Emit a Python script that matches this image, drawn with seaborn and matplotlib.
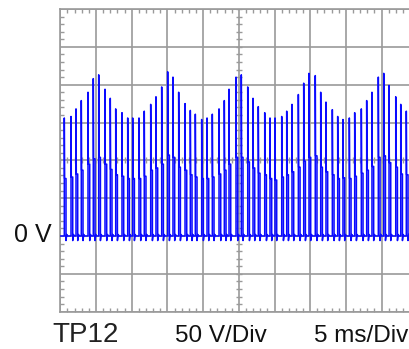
import numpy as np
import pandas as pd
import seaborn as sns
import matplotlib
matplotlib.use("Agg")
import matplotlib.pyplot as plt
from matplotlib.ticker import MultipleLocator

# Scope capture, TP12: 50 V/div, 5 ms/div
# start time of every pulse (ms)
pulse_t = [0.56, 1.50, 2.20, 2.94, 3.88, 4.62, 5.38, 6.26, 7.00, 7.76,
           8.64, 9.44, 10.14, 11.02, 11.76, 12.66, 13.40, 14.20, 15.04, 15.78,
           16.58, 17.47, 18.21, 18.91, 19.80, 20.55, 21.29, 22.23, 22.97, 23.63,
           24.61, 25.35, 26.25, 26.99, 27.73, 28.63, 29.37, 30.07, 31.01, 31.71,
           32.45, 33.34, 34.09, 34.83, 35.71, 36.47, 37.21, 38.10, 38.85, 39.59,
           40.48, 41.23, 42.16, 42.91, 43.65, 44.54, 45.30, 46.04, 46.98, 47.68,
           48.46, 49.24]
# peak of the narrow spike at the start of each pulse (V)
spike_v = [156, 158, 168, 179, 190, 208, 213, 194, 182, 168,
           163, 156, 156, 156, 165, 174, 184, 197, 217, 210,
           190, 175, 166, 161, 154, 156, 161, 168, 179, 194,
           210, 213, 197, 182, 171, 163, 156, 156, 158, 165,
           174, 187, 202, 215, 212, 190, 177, 167, 158, 154,
           156, 163, 168, 179, 190, 210, 215, 199, 184, 174,
           165, 158]
# flat top that follows the spike (V)
plateau_v = [76, 78, 82, 87, 95, 102, 104, 95, 88, 81,
             79, 76, 76, 76, 79, 87, 90, 95, 107, 104,
             91, 87, 81, 78, 76, 76, 78, 82, 87, 95,
             104, 104, 98, 90, 83, 81, 76, 74, 78, 81,
             85, 91, 99, 104, 106, 91, 85, 81, 76, 77,
             76, 79, 83, 87, 92, 104, 106, 97, 91, 82,
             81, 78]

pulse_w = 0.24
gray = "#9a9a9a"
trace_col = "#0a0aff"

# build the trace as one polyline from the pulse table
t, v = [0.0], [0.0]
for ti, sv, pv in zip(pulse_t, spike_v, plateau_v):
    t += [ti, ti, ti + 0.04, ti + pulse_w, ti + pulse_w,
          ti + pulse_w + 0.1, ti + pulse_w + 0.25]
    v += [0, sv, pv, pv, -6, 2, 0]
t.append(50.0)
v.append(0.0)
df = pd.DataFrame({"t": t, "v": v})

sns.set_style("white")
fig = plt.figure(figsize=(4.09, 3.49), dpi=100)
# screen runs past the right edge of the capture
ax = fig.add_axes([60.3 / 409, 37.3 / 349, 357 / 409, 302.7 / 349])

sns.lineplot(data=df, x="t", y="v", estimator=None, sort=False,
             color=trace_col, lw=1.1, ax=ax, zorder=3)

ax.set_xlim(0, 50)
ax.set_ylim(-100, 300)
ax.set_xticks(np.arange(0, 51, 5))
ax.set_yticks(np.arange(-100, 301, 50))
ax.xaxis.set_minor_locator(MultipleLocator(1))
ax.yaxis.set_minor_locator(MultipleLocator(10))
ax.grid(True, which="major", color=gray, lw=1.2)
ax.set_axisbelow(True)
ax.tick_params(which="major", length=0, labelbottom=False, labelleft=False)
ax.tick_params(which="minor", direction="in", length=3, width=1, color=gray,
               top=True, bottom=True, left=True, right=False)
for s in ax.spines.values():
    s.set_color(gray)
    s.set_linewidth(1.2)
ax.set_xlabel("")
ax.set_ylabel("")

# tick marks along the centre cross
ym = np.arange(-100, 301, 10)
xm = np.arange(0, 51, 1)
ax.plot(np.full(len(ym), 25.0), ym, ls="none", marker="_", ms=4.5, mew=1,
        color=gray, zorder=1.5)
ax.plot(xm, np.full(len(xm), 100.0), ls="none", marker="|", ms=4.5, mew=1,
        color=gray, zorder=1.5)

fam = ["Liberation Sans", "DejaVu Sans"]
fig.text(52 / 409, 1 - 242 / 349, "0 V", ha="right", va="baseline",
         fontsize=18, family=fam, color="#111111")
fig.text(52 / 409, 1 - 342 / 349, "TP12", ha="left", va="baseline",
         fontsize=20, family=fam, color="#222222")
fig.text(175 / 409, 1 - 342 / 349, "50 V/Div", ha="left", va="baseline",
         fontsize=17.5, family=fam, color="#111111")
fig.text(314 / 409, 1 - 342 / 349, "5 ms/Div", ha="left", va="baseline",
         fontsize=17.5, family=fam, color="#111111")

fig.savefig("out.png", dpi=100)
